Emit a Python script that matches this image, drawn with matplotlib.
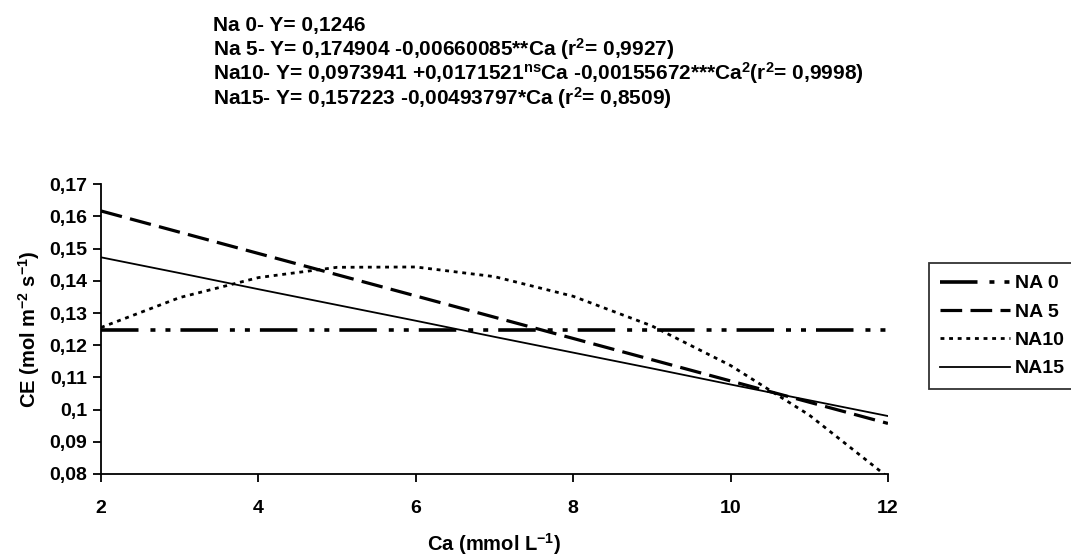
import numpy as np
import matplotlib
matplotlib.use('Agg')
import matplotlib.pyplot as plt

# Values (CE vs Ca for each Na level)
ca = [2, 3, 4, 5, 6, 7, 8, 9, 10, 11, 12]
na0 = [0.1246, 0.1246, 0.1246, 0.1246, 0.1246, 0.1246, 0.1246, 0.1246, 0.1246, 0.1246, 0.1246]
na5 = [0.1617, 0.1551, 0.1485, 0.1419, 0.1353, 0.1287, 0.1221, 0.1155, 0.1089, 0.1023, 0.0957]
na10 = [0.1255, 0.1348, 0.1410, 0.1442, 0.1443, 0.1413, 0.1352, 0.1260, 0.1137, 0.0983, 0.0790]
na15 = [0.1473, 0.1424, 0.1374, 0.1325, 0.1276, 0.1226, 0.1177, 0.1128, 0.1078, 0.1029, 0.0980]
labels = ['NA 0', 'NA 5', 'NA10', 'NA15']

equations = [
    'Na 0- Y= 0,1246',
    'Na 5- Y= 0,174904 -0,00660085**Ca (r$^{2}$= 0,9927)',
    'Na10- Y= 0,0973941 +0,0171521$^{ns}$Ca -0,00155672***Ca$^{2}$(r$^{2}$= 0,9998)',
    'Na15- Y= 0,157223 -0,00493797*Ca (r$^{2}$= 0,8509)',
]

plt.rcParams['font.family'] = ['Liberation Sans', 'DejaVu Sans']
plt.rcParams['font.weight'] = 'bold'
plt.rcParams['mathtext.fontset'] = 'custom'
plt.rcParams['mathtext.rm'] = 'Liberation Sans:bold'
plt.rcParams['mathtext.it'] = 'Liberation Sans:bold'
plt.rcParams['mathtext.default'] = 'rm'
plt.rcParams['lines.scale_dashes'] = False

fig = plt.figure(figsize=(10.71, 5.6), dpi=100)
ax = fig.add_axes([0.0943, 0.1536, 0.7348, 0.5174])

ax.plot(ca, na0, color='black', lw=2.6, dashes=(27, 8.6, 3.6, 7.2, 3.6, 7.2), label=labels[0])
ax.plot(ca, na5, color='black', lw=2.3, dashes=(15.6, 6), label=labels[1])
ax.plot(ca, na10, color='black', lw=2.0, dashes=(2.8, 3.4), label=labels[2])
ax.plot(ca, na15, color='black', lw=1.3, label=labels[3])

ax.set_xlim(2, 12)
ax.set_ylim(0.08, 0.17)
ax.set_xticks([2, 4, 6, 8, 10, 12])
ax.set_yticks(np.arange(0.08, 0.171, 0.01))
ax.set_xticklabels(['2', '4', '6', '8', '10', '12'])
ax.set_yticklabels(['0,08', '0,09', '0,1', '0,11', '0,12', '0,13', '0,14', '0,15', '0,16', '0,17'])
ax.tick_params(labelsize=14, width=1.3, length=6, direction='out', pad=4)
ax.tick_params(axis='x', pad=13)
for s in ['top', 'right']:
    ax.spines[s].set_visible(False)
for s in ['left', 'bottom']:
    ax.spines[s].set_linewidth(1.3)

ax.set_xlabel('Ca (mmol L$^{-1}$)', fontsize=14.5, fontweight='bold', labelpad=10)
ax.set_ylabel('CE (mol m$^{-2}$ s$^{-1}$)', fontsize=14.5, fontweight='bold', labelpad=5)

for i, eq in enumerate(equations):
    fig.text(0.199, 1 - (31 + 24.5 * i) / 560, eq, fontsize=15, fontweight='bold', va='baseline')

# legend hugs the right edge, as in the original
leg = fig.legend(loc='upper left', bbox_to_anchor=(0.867, 0.530), borderaxespad=0,
                 fontsize=14, handlelength=3.6, handletextpad=0.25, labelspacing=0.55,
                 borderpad=0.6, fancybox=False, frameon=True, edgecolor='black')
leg.get_frame().set_linewidth(1.3)
for t in leg.get_texts():
    t.set_fontweight('bold')

plt.savefig('out.png', dpi=100)
